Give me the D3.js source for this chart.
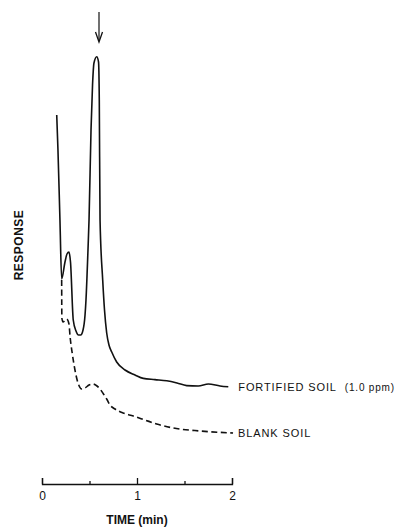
<!DOCTYPE html>
<html>
<head>
<meta charset="utf-8">
<script src="https://cdn.jsdelivr.net/npm/d3@7"></script>
<style>
  body { margin: 0; background: #fff; }
  text { font-family: "Liberation Sans", Arial, sans-serif; fill: #111; }
</style>
</head>
<body>
<script>
// time (min) and detector response (arbitrary units)
const fortifiedTime = [0.155, 0.168, 0.189, 0.207, 0.242, 0.263, 0.284, 0.300, 0.329, 0.358, 0.384, 0.407,
    0.432, 0.453, 0.463, 0.484, 0.495, 0.516, 0.532, 0.547, 0.576, 0.595, 0.603, 0.611, 0.639, 0.658,
    0.681, 0.705, 0.734, 0.786, 0.874, 0.979, 1.066, 1.189, 1.313, 1.421, 1.523, 1.645, 1.751, 1.874, 1.961];
const fortifiedResponse = [83.75, 75, 57.5, 42.75, 47, 49, 49.5, 47, 32.5, 29.75, 28.75, 28.75,
    30, 33.75, 37.5, 50, 57.5, 80, 91.25, 96.75, 98.3, 97, 87.5, 57.5, 42.5, 35,
    29.25, 26.25, 24.5, 22, 20, 18.75, 17.9, 17.6, 17.3, 16.75, 16.1, 16, 16.5, 16, 15.8];

const blankTime = [0.207, 0.209, 0.221, 0.260, 0.284, 0.295, 0.321, 0.347, 0.379, 0.418, 0.453, 0.495,
    0.534, 0.579, 0.611, 0.647, 0.681, 0.716, 0.768, 0.853, 0.961, 1.084, 1.207, 1.382, 1.663, 2.011];
const blankResponse = [42.5, 33, 32, 32.75, 31.5, 28.5, 23.75, 20, 16.75, 15.25, 15.5, 16.25,
    16.5, 16, 15.25, 14, 12.75, 11.25, 10.25, 9.25, 8.5, 7.5, 6.5, 5.5, 4.75, 4.25];

const seriesNames = ["FORTIFIED SOIL", "BLANK SOIL"];
const seriesNotes = ["(1.0 ppm)", ""];
const majorTicks = [0, 1, 2];
const minorTicks = [0.5, 1.5];
const arrowTime = 0.6;

const width = 397, height = 527;
const axisY = 484;

const svg = d3.select("body").append("svg")
    .attr("width", width)
    .attr("height", height);

svg.append("rect").attr("width", width).attr("height", height).attr("fill", "#fff");

const x = d3.scaleLinear().domain([0, 2]).range([42, 232]);
const y = d3.scaleLinear().domain([0, 100]).range([450, 50]);

const series = [
    { name: seriesNames[0], note: seriesNotes[0], dash: null, gap: 10,
      pts: fortifiedTime.map((t, i) => [t, fortifiedResponse[i]]) },
    { name: seriesNames[1], note: seriesNotes[1], dash: "6,3.5", gap: 5,
      pts: blankTime.map((t, i) => [t, blankResponse[i]]) }
];

const line = d3.line()
    .x(d => x(d[0]))
    .y(d => y(d[1]))
    .curve(d3.curveMonotoneX);

svg.selectAll(".trace")
    .data(series)
    .enter()
    .append("path")
    .attr("class", "trace")
    .attr("d", d => line(d.pts))
    .attr("fill", "none")
    .attr("stroke", "#111")
    .attr("stroke-width", 1.6)
    .attr("stroke-dasharray", d => d.dash);

// labels at the end of each trace
const labels = svg.selectAll(".label")
    .data(series)
    .enter()
    .append("text")
    .attr("class", "label")
    .attr("x", d => x(d.pts[d.pts.length - 1][0]) + d.gap)
    .attr("y", d => y(d.pts[d.pts.length - 1][1]))
    .attr("dominant-baseline", "central")
    .attr("font-size", 11)
    .attr("letter-spacing", 0.9);
labels.append("tspan").text(d => d.name);
labels.append("tspan")
    .attr("dx", 8)
    .attr("font-size", 10)
    .attr("letter-spacing", 0.8)
    .text(d => d.note);

// arrow marking the peak
const ax = x(arrowTime);
svg.append("line")
    .attr("x1", ax).attr("x2", ax)
    .attr("y1", 12).attr("y2", 41)
    .attr("stroke", "#111")
    .attr("stroke-width", 1.2);
svg.append("path")
    .attr("d", `M${ax - 3.5},${32} L${ax},${42} L${ax + 3.5},${32}`)
    .attr("fill", "none")
    .attr("stroke", "#111")
    .attr("stroke-width", 1.3);

// time axis, ticks pointing up
const axisG = svg.append("g")
    .attr("transform", `translate(0,${axisY})`)
    .call(d3.axisBottom(x)
        .tickValues(majorTicks)
        .tickFormat(d3.format("d"))
        .tickSizeInner(-6)
        .tickSizeOuter(-6)
        .tickPadding(7));
const minorG = svg.append("g")
    .attr("transform", `translate(0,${axisY})`)
    .call(d3.axisBottom(x)
        .tickValues(minorTicks)
        .tickFormat("")
        .tickSizeInner(-3)
        .tickSizeOuter(0));
minorG.select(".domain").remove();

svg.selectAll(".tick line, .domain").attr("stroke", "#111").attr("stroke-width", 1.3);
axisG.selectAll("text")
    .attr("font-size", 12)
    .attr("font-family", "Liberation Sans, Arial, sans-serif")
    .attr("fill", "#111");

svg.append("text")
    .attr("x", x(1))
    .attr("y", 520)
    .attr("text-anchor", "middle")
    .attr("dominant-baseline", "central")
    .attr("font-size", 12)
    .attr("font-weight", "bold")
    .text("TIME (min)");

svg.append("text")
    .attr("transform", "translate(19,245) rotate(-90)")
    .attr("text-anchor", "middle")
    .attr("dominant-baseline", "central")
    .attr("font-size", 12)
    .attr("font-weight", "bold")
    .attr("letter-spacing", 0.5)
    .text("RESPONSE");
</script>
</body>
</html>
